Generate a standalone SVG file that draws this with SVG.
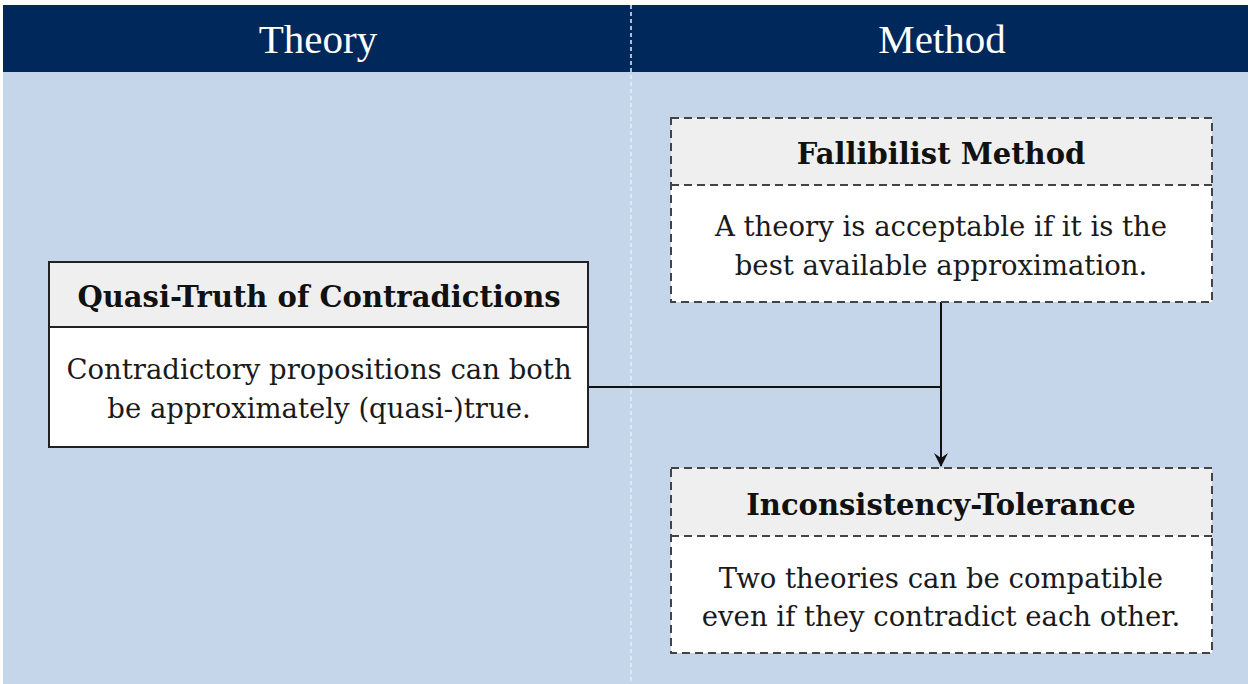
<svg xmlns="http://www.w3.org/2000/svg" width="1248" height="684" viewBox="0 0 1248 684">
<defs>
<style>
.hdr{font-family:"Liberation Serif",serif;font-size:41px;fill:#ffffff;text-anchor:middle}
.ttl{font-family:"DejaVu Serif","Liberation Serif",serif;font-weight:bold;font-size:29px;fill:#111;text-anchor:middle}
.bod{font-family:"DejaVu Serif","Liberation Serif",serif;font-size:27.5px;fill:#1a1a1a;text-anchor:middle}
.solid{stroke:#222;stroke-width:2}
.dash{stroke:#444;stroke-width:2;stroke-dasharray:8 5}
.conn{stroke:#111;stroke-width:2;fill:none}
</style>
<marker id="arr" viewBox="0 0 14 14" refX="13" refY="7" markerWidth="14" markerHeight="14" markerUnits="userSpaceOnUse" orient="auto">
<path d="M0,0 L14,7 L0,14 L5,7 Z" fill="#111"/>
</marker>
</defs>
<rect x="0" y="0" width="1248" height="684" fill="#ffffff"/>
<g id="background">
<rect x="3" y="72" width="1245" height="612" fill="#c5d6eb"/>
<rect x="3" y="5" width="1245" height="67" fill="#00285a"/>
<line x1="631" y1="5" x2="631" y2="684" stroke="#e8eef7" stroke-width="1.5" stroke-dasharray="4 3"/>
<text class="hdr" x="318" y="53">Theory</text>
<text class="hdr" x="942" y="53">Method</text>
</g>
<g id="connectors">
<polyline class="conn" points="588,387 941,387"/>
<line class="conn" x1="941" y1="302" x2="941" y2="466" marker-end="url(#arr)"/>
</g>
<g id="quasi-truth">
<rect x="49" y="262" width="539" height="65" fill="#efefef"/>
<rect x="49" y="327" width="539" height="120" fill="#ffffff"/>
<rect class="solid" x="49" y="262" width="539" height="185" fill="none"/>
<line class="solid" x1="49" y1="327" x2="588" y2="327"/>
<text class="ttl" x="319" y="307">Quasi-Truth of Contradictions</text>
<text class="bod" x="319" y="379">Contradictory propositions can both</text>
<text class="bod" x="319" y="418">be approximately (quasi-)true.</text>
</g>
<g id="fallibilist">
<rect x="671" y="118" width="541" height="67" fill="#efefef"/>
<rect x="671" y="185" width="541" height="117" fill="#ffffff"/>
<rect class="dash" x="671" y="118" width="541" height="184" fill="none"/>
<line class="dash" x1="671" y1="185" x2="1212" y2="185"/>
<text class="ttl" x="941" y="164">Fallibilist Method</text>
<text class="bod" x="941" y="236">A theory is acceptable if it is the</text>
<text class="bod" x="941" y="275">best available approximation.</text>
</g>
<g id="inconsistency">
<rect x="671" y="468" width="541" height="68" fill="#efefef"/>
<rect x="671" y="536" width="541" height="117" fill="#ffffff"/>
<rect class="dash" x="671" y="468" width="541" height="185" fill="none"/>
<line class="dash" x1="671" y1="536" x2="1212" y2="536"/>
<text class="ttl" x="941" y="515">Inconsistency-Tolerance</text>
<text class="bod" x="941" y="588">Two theories can be compatible</text>
<text class="bod" x="941" y="626">even if they contradict each other.</text>
</g>
</svg>
